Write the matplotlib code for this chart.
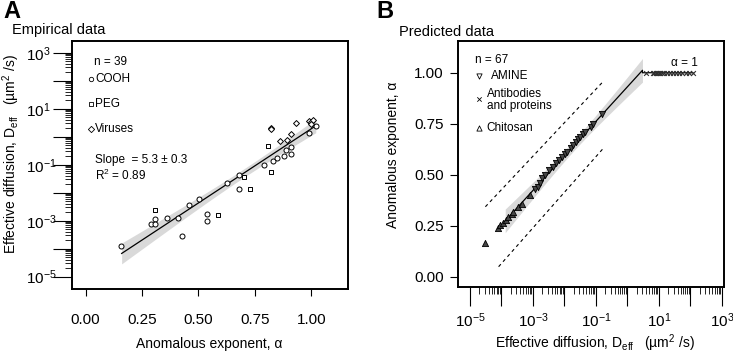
import numpy as np
import matplotlib.pyplot as plt

plt.rcParams['font.family'] = ['Liberation Sans', 'DejaVu Sans']
plt.rcParams['mathtext.fontset'] = 'custom'
plt.rcParams['mathtext.rm'] = 'Liberation Sans'
plt.rcParams['mathtext.it'] = 'Liberation Sans:italic'

# ---- panel A: empirical data (alpha, log10 Deff) ----
alpha_cooh = [0.158, 0.288, 0.309, 0.309, 0.359, 0.409, 0.428, 0.459, 0.501, 0.539, 0.539,
              0.629, 0.679, 0.679, 0.790, 0.830, 0.849, 0.880, 0.889, 0.911, 0.911, 0.991, 1.021]
logd_cooh = [-3.89, -3.12, -2.93, -3.10, -2.89, -2.89, -3.55, -2.43, -2.24, -2.77, -3.01,
             -1.64, -1.35, -1.86, -1.02, -0.87, -0.77, -0.69, -0.49, -0.38, -0.60, 0.15, 0.40]
alpha_peg = [0.307, 0.589, 0.700, 0.730, 0.809, 0.820]
logd_peg = [-2.61, -2.81, -1.43, -1.88, -0.33, -1.25]
alpha_vir = [0.820, 0.820, 0.861, 0.891, 0.911, 0.931, 0.991, 1.001, 1.010, 1.000]
logd_vir = [0.32, 0.26, -0.17, -0.10, 0.10, 0.49, 0.57, 0.52, 0.60, 0.45]

# regression line of panel A as drawn (alpha, log10 Deff at the two ends)
fit_a_alpha = [0.16, 1.02]
fit_a_logd = [-4.17, 0.39]

# ---- panel B: predicted data (log10 Deff, alpha) ----
logd_chit = [-4.52, -4.10, -4.03, -3.94, -3.86, -3.78, -3.68, -3.63, -3.47, -3.34, -3.10]
alpha_chit = [0.167, 0.237, 0.253, 0.265, 0.278, 0.291, 0.306, 0.319, 0.343, 0.356, 0.400]
logd_amine = [-2.94, -2.83, -2.78, -2.72, -2.62, -2.48, -2.37, -2.27, -2.17, -2.07, -1.98,
              -1.91, -1.79, -1.72, -1.64, -1.56, -1.49, -1.42, -1.35, -1.14, -1.09, -0.82]
alpha_amine = [0.428, 0.441, 0.458, 0.482, 0.499, 0.523, 0.539, 0.556, 0.572, 0.585, 0.601,
               0.613, 0.632, 0.646, 0.662, 0.675, 0.686, 0.698, 0.708, 0.735, 0.749, 0.798]
logd_anti = [0.60, 0.80, 0.85, 0.90, 0.95, 1.00, 1.05, 1.10, 1.15, 1.25, 1.35, 1.45,
             1.55, 1.65, 1.75, 1.85, 1.95, 2.08]
alpha_anti = [1.0] * len(logd_anti)

# fitted line / band / prediction bounds
fit_b_logd = [-4.12, 0.48, 0.48, 2.08]
fit_b_alpha = [0.233, 1.012, 1.0, 1.0]
band_b_logd = [-3.88, 0.48]
band_b_hw_end = 0.058
band_b_hw_mid = 0.025
upper_logd = [-4.51, -0.805]
upper_alpha = [0.343, 0.951]
lower_logd = [-4.09, -0.784]
lower_alpha = [0.049, 0.626]

fig = plt.figure(figsize=(7.33, 3.54), dpi=100)
axA = fig.add_axes([0.0982, 0.1836, 0.3766, 0.7006])
axB = fig.add_axes([0.6244, 0.1884, 0.3629, 0.6966])

TICK_FS = 11
LAB_FS = 10
LEG_FS = 8.5
UNIT = 'Effective diffusion, D$_{\\rm eff}$   (\u00b5m$^{2}$ /s)'

# ---------- A ----------
a_all = np.array(alpha_cooh + alpha_peg + alpha_vir)
y_all = np.array(logd_cooh + logd_peg + logd_vir)
slope = (fit_a_logd[1] - fit_a_logd[0]) / (fit_a_alpha[1] - fit_a_alpha[0])
icpt = fit_a_logd[0] - slope * fit_a_alpha[0]
resid = y_all - (slope * a_all + icpt)
s = np.sqrt(np.sum(resid ** 2) / (len(a_all) - 2))
sxx = np.sum((a_all - a_all.mean()) ** 2)
xs = np.linspace(fit_a_alpha[0], fit_a_alpha[1], 100)
fit = slope * xs + icpt
hw = 2.02 * s * np.sqrt(1 / len(a_all) + (xs - a_all.mean()) ** 2 / sxx)
axA.fill_between(xs, 10 ** (fit - hw), 10 ** (fit + hw), color='#d9d9d9', lw=0, zorder=1)
axA.plot(xs, 10 ** fit, color='black', lw=0.9, zorder=2)

mk = dict(facecolor='white', edgecolor='black', linewidth=0.7, zorder=3)
axA.scatter(alpha_cooh, 10 ** np.array(logd_cooh), marker='o', s=13, **mk)
axA.scatter(alpha_peg, 10 ** np.array(logd_peg), marker='s', s=11, **mk)
axA.scatter(alpha_vir, 10 ** np.array(logd_vir), marker='D', s=9, **mk)

axA.set_yscale('log')
axA.set_xlim(-0.06, 1.163)
axA.set_ylim(10 ** -5.44, 10 ** 3.42)
axA.set_xticks([0, 0.25, 0.5, 0.75, 1.0])
axA.set_xticklabels(['0.00', '0.25', '0.50', '0.75', '1.00'])
dec = [10.0 ** k for k in range(-5, 4)]
axA.set_yticks(dec)
axA.set_yticklabels([r'$10^{%d}$' % k if k % 2 else '' for k in range(-5, 4)], ha='left')
minor = [m * 10.0 ** k for k in range(-5, 3) for m in range(2, 10)]
axA.set_yticks(minor, minor=True)
axA.yaxis.set_minor_formatter(plt.NullFormatter())
axA.tick_params(axis='x', length=5, width=0.8, pad=12, labelsize=TICK_FS)
axA.tick_params(axis='y', which='major', length=14, width=0.8, pad=19, labelsize=TICK_FS)
axA.tick_params(axis='y', which='minor', length=5, width=0.6)
axA.tick_params(axis='x', which='minor', bottom=False)

tA = axA.transAxes
axA.text(0.081, 0.915, 'n = 39', transform=tA, fontsize=LEG_FS, va='center')
for yy, m, lab in [(0.847, 'o', 'COOH'), (0.746, 's', 'PEG'), (0.645, 'D', 'Viruses')]:
    axA.scatter([0.069], [yy], marker=m, s=10, transform=tA, facecolor='white',
                edgecolor='black', linewidth=0.6, clip_on=False)
    axA.text(0.085, yy, lab, transform=tA, fontsize=LEG_FS, va='center')
axA.text(0.083, 0.52, 'Slope  = 5.3 \u00b1 0.3', transform=tA, fontsize=LEG_FS, va='center')
axA.text(0.083, 0.46, r'R$^{2}$ = 0.89', transform=tA, fontsize=LEG_FS, va='center')

# ---------- B ----------
bx = np.linspace(band_b_logd[0], band_b_logd[1], 100)
mid = (band_b_logd[0] + band_b_logd[1]) / 2
half = (band_b_logd[1] - band_b_logd[0]) / 2
k = (band_b_hw_end ** 2 - band_b_hw_mid ** 2) / half ** 2
bw = np.sqrt(band_b_hw_mid ** 2 + k * (bx - mid) ** 2)
bslope = (fit_b_alpha[1] - fit_b_alpha[0]) / (fit_b_logd[1] - fit_b_logd[0])
bc = fit_b_alpha[0] + bslope * (bx - fit_b_logd[0])
axB.fill_between(10 ** bx, bc - bw, bc + bw, color='#d9d9d9', lw=0, zorder=1)
axB.plot(10 ** np.array(fit_b_logd), fit_b_alpha, color='black', lw=0.9, zorder=2)
axB.plot(10 ** np.array(upper_logd), upper_alpha, color='black', lw=0.8, ls=(0, (3, 3)))
axB.plot(10 ** np.array(lower_logd), lower_alpha, color='black', lw=0.8, ls=(0, (3, 3)))

fk = dict(facecolor='#454545', edgecolor='black', linewidth=0.6, zorder=3)
axB.scatter(10 ** np.array(logd_chit), alpha_chit, marker='^', s=20, **fk)
axB.scatter(10 ** np.array(logd_amine), alpha_amine, marker='v', s=20, **fk)
axB.scatter(10 ** np.array(logd_anti), alpha_anti, marker='x', s=12, color='#303030',
            linewidth=0.8, zorder=3)

axB.set_xscale('log')
axB.set_xlim(10 ** -5.39, 10 ** 3.06)
axB.set_ylim(-0.052, 1.157)
axB.set_yticks([0, 0.25, 0.5, 0.75, 1.0])
axB.set_yticklabels(['0.00', '0.25', '0.50', '0.75', '1.00'])
axB.set_xticks(dec)
axB.set_xticklabels([r'$10^{%d}$' % k if k % 2 else '' for k in range(-5, 4)])
axB.set_xticks(minor, minor=True)
axB.xaxis.set_minor_formatter(plt.NullFormatter())
axB.tick_params(axis='y', length=6, width=0.8, pad=4, labelsize=TICK_FS)
axB.tick_params(axis='x', which='major', length=14, width=0.8, pad=3, labelsize=TICK_FS)
axB.tick_params(axis='x', which='minor', length=5, width=0.6)
axB.tick_params(axis='y', which='minor', left=False)

tB = axB.transAxes
axB.text(0.066, 0.922, 'n = 67', transform=tB, fontsize=LEG_FS, va='center')
axB.scatter([0.079], [0.857], marker='v', s=14, transform=tB, facecolor='white',
            edgecolor='black', linewidth=0.6, clip_on=False)
axB.text(0.125, 0.857, 'AMINE', transform=tB, fontsize=LEG_FS, va='center')
axB.scatter([0.079], [0.762], marker='x', s=10, transform=tB, color='black',
            linewidth=0.6, clip_on=False)
axB.text(0.109, 0.759, 'Antibodies\nand proteins', transform=tB, fontsize=LEG_FS,
         va='center', linespacing=0.95)
axB.scatter([0.079], [0.647], marker='^', s=14, transform=tB, facecolor='white',
            edgecolor='black', linewidth=0.6, clip_on=False)
axB.text(0.109, 0.647, 'Chitosan', transform=tB, fontsize=LEG_FS, va='center')
axB.text(0.851, 0.908, '\u03b1 = 1', transform=tB, fontsize=LEG_FS, ha='center', va='center')

for ax in (axA, axB):
    for sp in ax.spines.values():
        sp.set_linewidth(1.4)

# ---------- labels ----------
W, H = 733.0, 354.0
fig.text(3 / W, 1 - 11 / H, 'A', fontsize=17, fontweight='bold', va='center')
fig.text(376 / W, 1 - 11 / H, 'B', fontsize=17, fontweight='bold', va='center')
fig.text(12 / W, 1 - 30 / H, 'Empirical data', fontsize=10.5, va='center')
fig.text(399 / W, 1 - 32 / H, 'Predicted data', fontsize=10.5, va='center')
fig.text(209.5 / W, 1 - 348 / H, 'Anomalous exponent, \u03b1', fontsize=LAB_FS,
         ha='center', va='baseline')
fig.text(595 / W, 1 - 348 / H, UNIT, fontsize=LAB_FS, ha='center', va='baseline')
fig.text(11 / W, 1 - 154 / H, UNIT, fontsize=LAB_FS, ha='center', va='center', rotation=90)
fig.text(393.5 / W, 1 - 154.5 / H, 'Anomalous exponent, \u03b1', fontsize=LAB_FS,
         ha='center', va='center', rotation=90)

fig.savefig('out.png', dpi=100)
